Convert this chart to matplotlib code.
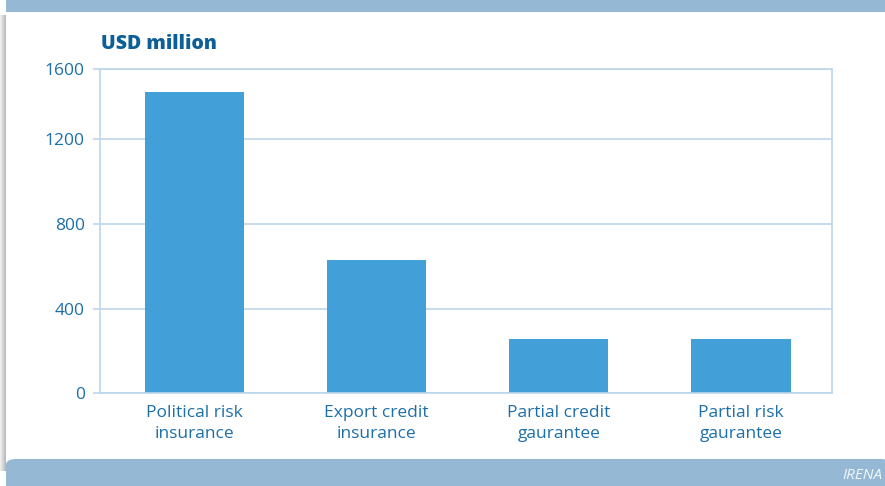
import matplotlib.pyplot as plt
from matplotlib.patches import Rectangle, FancyBboxPatch

# data
categories = ["Political risk\ninsurance", "Export credit\ninsurance",
              "Partial credit\ngaurantee", "Partial risk\ngaurantee"]
values = [1424, 630, 257, 257]
tick_values = [0, 400, 800, 1200]
tick_labels = ["0", "400", "800", "1200", "1600"]

bar_col = '#439fd8'
grid_col = '#bcd6ea'
text_col = '#1c6fa8'
band_col = '#95b9d4'

plt.rcParams['font.family'] = ['Open Sans', 'DejaVu Sans']

fig = plt.figure(figsize=(8.85, 4.86), dpi=100)
W, H = 885, 486

# page decoration: bands at top and bottom, shadow at left
for i in range(6):
    fig.patches.append(Rectangle((i / W, 0.03), 1 / W, 0.94, transform=fig.transFigure,
                                 color='#7a7a7a', alpha=0.12 + 0.08 * i, lw=0))
fig.patches.append(Rectangle((6 / W, 1 - 12 / H), 1, 12 / H, transform=fig.transFigure,
                             color=band_col, lw=0))
fig.patches.append(FancyBboxPatch((6 / W, -0.02), 1, (486 - 459) / H + 0.02,
                                  boxstyle="round,pad=0,rounding_size=0.012",
                                  transform=fig.transFigure, color=band_col, lw=0))
fig.text(882 / W, 1 - 475 / H, "IRENA", color='#f2f6fa', fontsize=11, style='italic',
         ha='right', va='center')

ax = fig.add_axes([100 / W, (486 - 393.4) / H, 732 / W, 324.4 / H])
x = list(range(len(categories)))
ax.bar(x, values, width=0.545, color=bar_col, zorder=2)

ymax = 1532
ax.set_ylim(0, ymax)
ax.set_xlim(-0.52, 3.5)
ax.set_yticks(tick_values + [ymax])
ax.set_yticklabels(tick_labels)
ax.set_xticks(x)
ax.set_xticklabels(categories, linespacing=1.45)
ax.yaxis.grid(True, color=grid_col, lw=1.2, zorder=1)
ax.tick_params(axis='y', colors=grid_col, labelcolor=text_col, labelsize=12.5,
               length=5, width=1.2, pad=6)
ax.tick_params(axis='x', length=0, labelcolor=text_col, labelsize=12.5, pad=8)
for s in ax.spines.values():
    s.set_color(grid_col)
    s.set_linewidth(1.2)

fig.text(101 / W, 1 - 44 / H, "USD million", color='#0d5f97', fontsize=14,
         fontweight='heavy', ha='left', va='center')

fig.savefig('out.png', dpi=100)
